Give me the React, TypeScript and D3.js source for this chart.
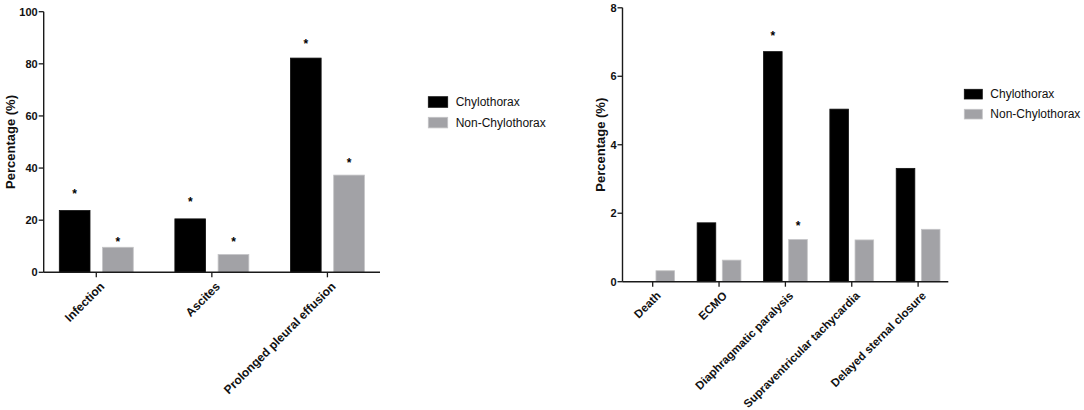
import React from "react";
import * as d3 from "d3";

// ---- Data ----
const seriesNames = ["Chylothorax", "Non-Chylothorax"];

const leftCategories = ["Infection", "Ascites", "Prolonged pleural effusion"];
const leftChylothorax = [23.7, 20.5, 82.2];
const leftNonChylothorax = [9.6, 6.8, 37.3];
// asterisk levels (in data units); null = no asterisk
const leftStarChylo = [31.3, 28.1, 88.7];
const leftStarNon = [12.8, 12.8, 43.3];
const leftYTicks = [0, 20, 40, 60, 80, 100];

const rightCategories = [
  "Death",
  "ECMO",
  "Diaphragmatic paralysis",
  "Supraventricular tachycardia",
  "Delayed sternal closure",
];
const rightChylothorax = [0, 1.72, 6.72, 5.04, 3.31];
const rightNonChylothorax = [0.32, 0.63, 1.23, 1.22, 1.53];
const rightStarChylo: (number | null)[] = [null, null, 7.27, null, null];
const rightStarNon: (number | null)[] = [null, null, 1.71, null, null];
const rightYTicks = [0, 2, 4, 6, 8];

const COLORS = ["#000000", "#a2a2a6"];
const STROKES = ["#111111", "#c4c4c6"];
const FONT = "'Liberation Sans', Arial, Helvetica, sans-serif";

type PanelProps = {
  categories: string[];
  chylo: number[];
  non: number[];
  starChylo: (number | null)[];
  starNon: (number | null)[];
  yTicks: number[];
  yMax: number;
  x0: number;
  x1: number;
  yTop: number;
  yBottom: number;
  innerPad: number;
  groupFrac: number;
  xLabelSize: number;
  titleX: number;
  legendX: number;
  legendY: number;
  legendW: number;
  legendH: number;
  legendGap: number;
};

function Panel(p: PanelProps) {
  const x = d3
    .scalePoint<string>()
    .domain(p.categories)
    .range([p.x0, p.x1])
    .padding(0.455);
  const step = x.step();
  const groupW = step * p.groupFrac;
  const xs = d3
    .scaleBand<number>()
    .domain([0, 1])
    .range([-groupW / 2, groupW / 2])
    .paddingInner(p.innerPad);
  const y = d3.scaleLinear().domain([0, p.yMax]).range([p.yBottom, p.yTop]);
  const series = [p.chylo, p.non];
  const stars = [p.starChylo, p.starNon];
  const bw = xs.bandwidth();

  return (
    <g fontFamily={FONT}>
      {/* bars */}
      {series.map((vals, si) =>
        vals.map((v, i) =>
          v > 0 ? (
            <rect
              key={`b${si}-${i}`}
              x={(x(p.categories[i]) as number) + (xs(si) as number)}
              y={y(v)}
              width={bw}
              height={y(0) - y(v)}
              fill={COLORS[si]}
              stroke={STROKES[si]}
              strokeWidth={0.8}
            />
          ) : null
        )
      )}
      {/* stars */}
      {stars.map((vals, si) =>
        vals.map((v, i) =>
          v != null ? (
            <text
              key={`s${si}-${i}`}
              x={(x(p.categories[i]) as number) + (xs(si) as number) + bw / 2}
              y={y(v)}
              dy="0.6em"
              textAnchor="middle"
              fontSize={12}
              fontWeight="bold"
              fill="#000"
            >
              *
            </text>
          ) : null
        )
      )}
      {/* y axis */}
      <line x1={p.x0} x2={p.x0} y1={p.yTop} y2={p.yBottom} stroke="#1a1a1a" strokeWidth={1.4} />
      {p.yTicks.map((t) => (
        <g key={`yt${t}`}>
          <line x1={p.x0 - 5} x2={p.x0} y1={y(t)} y2={y(t)} stroke="#1a1a1a" strokeWidth={1.3} />
          <text
            x={p.x0 - 6}
            y={y(t)}
            dy="0.36em"
            textAnchor="end"
            fontSize={11}
            fontWeight="bold"
            fill="#111"
          >
            {t}
          </text>
        </g>
      ))}
      {/* x axis */}
      <line x1={p.x0} x2={p.x1} y1={p.yBottom} y2={p.yBottom} stroke="#1a1a1a" strokeWidth={1.4} />
      {p.categories.map((c) => {
        const cx = x(c) as number;
        return (
          <g key={`xt${c}`}>
            <line x1={cx} x2={cx} y1={p.yBottom} y2={p.yBottom + 5} stroke="#1a1a1a" strokeWidth={1.3} />
            <text
              transform={`translate(${cx + 3},${p.yBottom + 9}) rotate(-45)`}
              textAnchor="end"
              dy="0.7em"
              fontSize={p.xLabelSize}
              fontWeight="bold"
              fill="#111"
            >
              {c}
            </text>
          </g>
        );
      })}
      {/* y title */}
      <text
        transform={`translate(${p.titleX},${(p.yTop + p.yBottom) / 2}) rotate(-90)`}
        textAnchor="middle"
        dy="0.35em"
        fontSize={13}
        fontWeight="bold"
        fill="#111"
      >
        Percentage (%)
      </text>
      {/* legend */}
      {seriesNames.map((n, i) => (
        <g key={`lg${i}`} transform={`translate(${p.legendX},${p.legendY + i * p.legendGap})`}>
          <rect width={p.legendW} height={p.legendH} fill={COLORS[i]} stroke={STROKES[i]} strokeWidth={0.8} />
          <text
            x={p.legendW + 8}
            y={p.legendH / 2}
            dy="0.36em"
            fontSize={12}
            fill="#111"
          >
            {n}
          </text>
        </g>
      ))}
    </g>
  );
}

export default function App() {
  return (
    <svg
      width={1084}
      height={410}
      style={{ position: "absolute", left: 0, top: 0, background: "#fff" }}
    >
      <rect width={1084} height={410} fill="#fff" />
      <Panel
        categories={leftCategories}
        chylo={leftChylothorax}
        non={leftNonChylothorax}
        starChylo={leftStarChylo}
        starNon={leftStarNon}
        yTicks={leftYTicks}
        yMax={100}
        x0={43.7}
        x1={380}
        yTop={11.7}
        yBottom={272.3}
        innerPad={0.29}
        groupFrac={0.64}
        xLabelSize={12}
        titleX={10}
        legendX={428.3}
        legendY={96.7}
        legendW={19.4}
        legendH={10.6}
        legendGap={20.6}
      />
      <Panel
        categories={rightCategories}
        chylo={rightChylothorax}
        non={rightNonChylothorax}
        starChylo={rightStarChylo}
        starNon={rightStarNon}
        yTicks={rightYTicks}
        yMax={8}
        x0={622.5}
        x1={948.3}
        yTop={7.8}
        yBottom={281.7}
        innerPad={0.26}
        groupFrac={0.66}
        xLabelSize={11.5}
        titleX={600}
        legendX={964.3}
        legendY={89.3}
        legendW={18}
        legendH={9.7}
        legendGap={20}
      />
    </svg>
  );
}
